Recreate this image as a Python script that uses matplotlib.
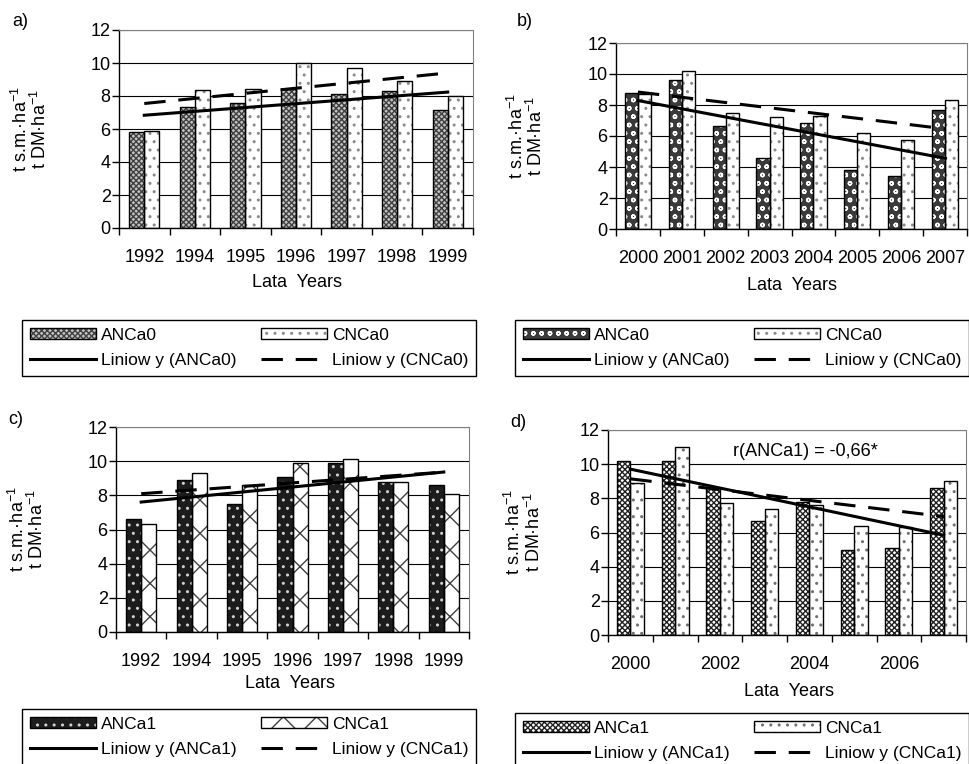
import matplotlib
matplotlib.use('Agg')
import matplotlib.pyplot as plt
from matplotlib.legend_handler import HandlerTuple
import numpy as np

plt.rcParams['font.family'] = ['Liberation Sans', 'DejaVu Sans']
plt.rcParams['mathtext.fontset'] = 'custom'
plt.rcParams['mathtext.rm'] = 'Liberation Sans'
plt.rcParams['mathtext.it'] = 'Liberation Sans:italic'
plt.rcParams['font.size'] = 13
plt.rcParams['hatch.linewidth'] = 1.0

W, H = 969, 764

# --- data ---
years_a = ['1992', '1994', '1995', '1996', '1997', '1998', '1999']
anca0_a = [5.8, 7.35, 7.55, 8.45, 8.15, 8.3, 7.15]
cnca0_a = [5.9, 8.35, 8.45, 10.0, 9.7, 8.9, 8.0]

years_b = ['2000', '2001', '2002', '2003', '2004', '2005', '2006', '2007']
anca0_b = [8.8, 9.6, 6.65, 4.55, 6.85, 3.8, 3.45, 7.7]
cnca0_b = [8.7, 10.2, 7.5, 7.2, 7.3, 6.2, 5.75, 8.35]

years_c = ['1992', '1994', '1995', '1996', '1997', '1998', '1999']
anca1_c = [6.6, 8.9, 7.5, 9.1, 9.9, 8.8, 8.6]
cnca1_c = [6.3, 9.3, 8.6, 9.9, 10.1, 8.8, 8.1]

years_d = ['2000', '2001', '2002', '2003', '2004', '2005', '2006', '2007']
ticklabels_d = ['2000', '', '2002', '', '2004', '', '2006', '']
anca1_d = [10.2, 10.2, 8.6, 6.7, 7.8, 5.0, 5.1, 8.6]
cnca1_d = [8.9, 11.0, 7.7, 7.4, 7.6, 6.4, 6.3, 9.0]


def px(x, y):
    return x / W, 1 - y / H


def rect(left, top, right, bottom):
    return [left / W, 1 - bottom / H, (right - left) / W, (bottom - top) / H]


def draw_panel(ax, cats, labels, a_vals, c_vals, a_name, c_name,
               a_style, c_style, ylab_x):
    n = len(cats)
    x = np.arange(n)
    w = 0.3
    # hatched fill, then black outline on top
    ha = ax.bar(x - w / 2, a_vals, w, facecolor=a_style[0], hatch=a_style[1],
                edgecolor=a_style[2], linewidth=0, zorder=2)
    hc = ax.bar(x + w / 2, c_vals, w, facecolor=c_style[0], hatch=c_style[1],
                edgecolor=c_style[2], linewidth=0, zorder=2)
    oa = ax.bar(x - w / 2, a_vals, w, fill=False, edgecolor='black', linewidth=1, zorder=3)
    oc = ax.bar(x + w / 2, c_vals, w, fill=False, edgecolor='black', linewidth=1, zorder=3)

    # linear trend lines
    pa = np.polyfit(x, a_vals, 1)
    pc = np.polyfit(x, c_vals, 1)
    xt = np.array([0, n - 1])
    la, = ax.plot(xt, np.polyval(pa, xt), color='black', lw=2.2, zorder=4)
    lc, = ax.plot(xt, np.polyval(pc, xt), color='black', lw=2.2, zorder=4,
                  dashes=(7, 4.2))

    ax.set_xlim(-0.5, n - 0.5)
    ax.set_ylim(0, 12)
    ax.set_yticks(range(0, 13, 2))
    ax.set_xticks(np.arange(n + 1) - 0.5)
    ax.set_xticklabels([])
    ax.set_xticks(x, labels, minor=True)
    ax.tick_params(axis='x', which='major', length=5, width=1, direction='out')
    ax.tick_params(axis='x', which='minor', length=0, pad=15)
    ax.tick_params(axis='y', length=5, width=1, pad=1)
    ax.yaxis.grid(True, color='black', lw=0.8)
    ax.set_axisbelow(True)
    for s in ['top', 'right']:
        ax.spines[s].set_color('#808080')
    ax.spines['left'].set_linewidth(1)
    ax.spines['bottom'].set_linewidth(1)

    ax.set_ylabel('t s.m.·ha$^{-1}$\nt DM·ha$^{-1}$', linespacing=0.95)
    ax.yaxis.set_label_coords(ylab_x, 0.5)

    handles = [(ha[0], oa[0]), la, (hc[0], oc[0]), lc]
    names = [a_name, 'Liniow y (%s)' % a_name, c_name, 'Liniow y (%s)' % c_name]
    return handles, names


fig = plt.figure(figsize=(W / 100, H / 100), dpi=100)
fig.patch.set_facecolor('white')

panels = [
    dict(r=rect(119, 30, 473, 228), cats=years_a, labels=years_a, a=anca0_a, c=cnca0_a,
         an='ANCa0', cn='CNCa0',
         ast=('#c4c4c4', 'xxxxxx', '#404040'), cst=('white', '..', '#8a8a8a'),
         ylx=-0.195, letter='a)', lpos=(20, 22), xl=(297, 283), leg=(22, 320)),
    dict(r=rect(616, 43, 967, 229), cats=years_b, labels=years_b, a=anca0_b, c=cnca0_b,
         an='ANCa0', cn='CNCa0',
         ast=('#3a3a3a', 'oo', 'white'), cst=('white', '..', '#8a8a8a'),
         ylx=-0.2, letter='b)', lpos=(525, 21), xl=(792, 285), leg=(515, 320)),
    dict(r=rect(116, 427, 469, 632), cats=years_c, labels=years_c, a=anca1_c, c=cnca1_c,
         an='ANCa1', cn='CNCa1',
         ast=('#1c1c1c', '..', '#d0d0d0'), cst=('white', 'x', '#404040'),
         ylx=-0.195, letter='c)', lpos=(16, 419), xl=(290, 683), leg=(22, 709)),
    dict(r=rect(608, 430, 966, 635), cats=years_d, labels=ticklabels_d, a=anca1_d, c=cnca1_d,
         an='ANCa1', cn='CNCa1',
         ast=('white', 'xxxxxx', '#202020'), cst=('white', '..', '#707070'),
         ylx=-0.18, letter='d)', lpos=(518, 422), xl=(789, 692), leg=(515, 713)),
]

for p in panels:
    ax = fig.add_axes(p['r'])
    handles, names = draw_panel(ax, p['cats'], p['labels'], p['a'], p['c'],
                                p['an'], p['cn'], p['ast'], p['cst'], p['ylx'])
    fig.text(*px(*p['lpos']), p['letter'], ha='center', va='center', fontsize=13)
    fig.text(*px(*p['xl']), 'Lata  Years', ha='center', va='center')
    leg = fig.legend(handles, names, ncol=2, loc='upper left',
                     bbox_to_anchor=px(*p['leg']),
                     handler_map={tuple: HandlerTuple(ndivide=1, pad=0)},
                     frameon=True, fancybox=False, edgecolor='black',
                     framealpha=1, fontsize=12.5, borderpad=0.45, labelspacing=0.6,
                     handlelength=3.8, handleheight=0.6, handletextpad=0.3,
                     columnspacing=1.4, borderaxespad=0)
    leg.get_frame().set_linewidth(1)

fig.text(*px(805, 452), 'r(ANCa1) = -0,66*', ha='center', va='center')

fig.savefig('out.png', dpi=100)
